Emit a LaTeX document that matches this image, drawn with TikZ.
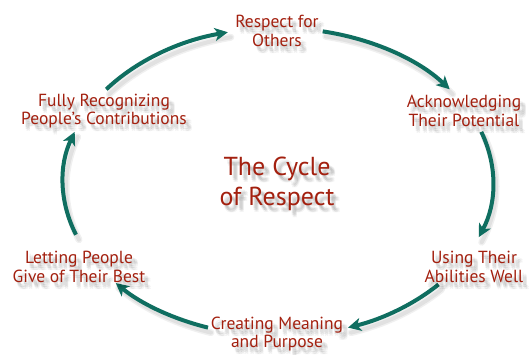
\documentclass[tikz,border=0pt]{standalone}
\usepackage{fontspec}
\setmainfont{PT Sans}
\usetikzlibrary{arrows.meta}
\definecolor{txtred}{HTML}{A3200F}
\definecolor{arrowteal}{HTML}{0F6E60}
\tikzset{
  lbl/.style={text=txtred, align=center, font=\fontsize{17.5}{18.5}\selectfont, inner sep=1pt},
  big/.style={font=\fontsize{26}{30}\selectfont},
  shd/.style={text=black, opacity=0.045},
  conn/.style={draw=arrowteal, line width=4pt, -{Stealth[length=13pt,width=13pt,inset=3.5pt]}},
  connshd/.style={draw=black, opacity=0.06, line width=7pt, line cap=round},
}
\newcommand{\mylabel}[5]{%
  \foreach \dx/\dy [count=\i] in {3/-3,4/-5,5/-4,5/-6,6/-5,3/-5,6/-7,4/-7}{
    \node[lbl,#4,shd] (#1-s\i) at (#2+\dx,#3+\dy) {#5};}
  \node[lbl,#4] (#1) at (#2,#3) {#5};}
\newcommand{\myarc}[3]{%
  \coordinate (#1) at ({278+215*cos(#2)},{172+154*sin(#2)});
  \coordinate (#1-sh) at ({281+215*cos(#2)},{167+154*sin(#2)});
  \draw[connshd] (#1-sh) arc[start angle=#2,end angle=#3,x radius=215pt,y radius=154pt];
  \draw[connshd,line width=4pt] (#1-sh) arc[start angle=#2,end angle=#3,x radius=215pt,y radius=154pt];
  \draw[conn] (#1) arc[start angle=#2,end angle=#3,x radius=215pt,y radius=154pt];}
\begin{document}
\begin{tikzpicture}[x=1pt,y=1pt]
\fill[white] (0,0) rectangle (529,354);
\useasboundingbox (0,0) rectangle (529,354);
\myarc{a1}{143}{103.5}
\myarc{a2}{78}{37}
\myarc{a3}{19}{-21}
\myarc{a4}{-41.7}{-71}
\myarc{a5}{-109}{-139}
\myarc{a6}{-160}{-199}
\mylabel{resp}{277}{323}{}{Respect for\\Others}
\mylabel{ackn}{464}{243}{}{Acknowledging\\Their Potential}
\mylabel{using}{474}{87}{}{Using Their\\Abilities Well}
\mylabel{creat}{277}{20}{}{Creating Meaning\\and Purpose}
\mylabel{letp}{79}{87}{}{Letting People\\Give of Their Best}
\mylabel{fully}{104}{243}{}{Fully Recognizing\\People's Contributions}
\mylabel{cyc}{277}{170}{big}{The Cycle\\of Respect}
\end{tikzpicture}
\end{document}
